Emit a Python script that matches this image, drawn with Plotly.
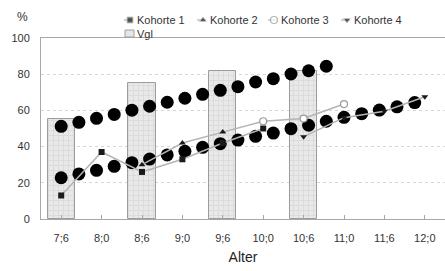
import plotly.graph_objects as go

# ---- data ----
tick_ages = [7.5, 8.0, 8.5, 9.0, 9.5, 10.0, 10.5, 11.0, 11.5, 12.0]
tick_labels = ["7;6", "8;0", "8;6", "9;0", "9;6", "10;0", "10;6", "11;0", "11;6", "12;0"]

vgl_ages = [7.5, 8.5, 9.5, 10.5]
vgl_values = [55, 75, 82, 82]

k1_ages = [7.5, 8.0, 8.5, 9.0, 9.5, 10.0]
k1_values = [13, 37, 26, 33, 42, 50]

k2_ages = [8.5, 9.0, 9.5, 10.0]
k2_values = [30, 42, 48, 54]

k3_ages = [10.0, 10.5, 11.0]
k3_values = [54, 55.5, 63.5]

k4_ages = [10.5, 11.0, 11.5, 12.0]
k4_values = [45.5, 56, 59.5, 67.5]

upper_ages = [7.5, 7.719, 7.937, 8.156, 8.375, 8.594, 8.812, 9.031, 9.25, 9.469,
              9.687, 9.906, 10.125, 10.344, 10.562, 10.781]
upper_values = [51.2, 53.4, 55.6, 57.8, 60.1, 62.3, 64.5, 66.7, 68.9, 71.1,
                73.1, 75.7, 77.5, 80.1, 81.9, 84.4]

lower_ages = [7.5, 7.719, 7.937, 8.156, 8.375, 8.594, 8.812, 9.031, 9.25, 9.469,
              9.687, 9.906, 10.125, 10.344, 10.562, 10.781, 11.0, 11.219, 11.437,
              11.656, 11.875]
lower_values = [22.8, 24.9, 26.9, 29.1, 31.1, 33.1, 35.4, 37.4, 39.6, 41.6,
                43.6, 45.7, 47.5, 49.9, 51.8, 54.0, 56.2, 58.2, 60.2, 62.0, 64.3]

legend_names = ["Kohorte 1", "Kohorte 2", "Kohorte 3", "Kohorte 4"]

FONT = "Liberation Sans, Arial, sans-serif"
LINE = "#b4b4b4"
MK = "#1a1a1a"
TXT = "#333333"
W, H = 445, 271

fig = go.Figure()

fig.add_trace(go.Bar(
    x=vgl_ages, y=vgl_values, name="Vgl", width=0.335,
    marker=dict(color="#e6e6e6", line=dict(color="#9c9c9c", width=1),
                pattern=dict(shape="+", fgcolor="#c8c8c8", bgcolor="#e9e9e9",
                             size=5, solidity=0.3)),
))

fig.add_trace(go.Scatter(
    x=upper_ages, y=upper_values, mode="markers",
    marker=dict(color="black", size=13), hoverinfo="skip"))
fig.add_trace(go.Scatter(
    x=lower_ages, y=lower_values, mode="markers",
    marker=dict(color="black", size=13), hoverinfo="skip"))

styles = [
    dict(symbol="square", size=6, color=MK),
    dict(symbol="triangle-up", size=6, color=MK),
    dict(symbol="circle", size=7, color="white", line=dict(color="#999999", width=1.2)),
    dict(symbol="triangle-down", size=6, color=MK),
]
series = [(k1_ages, k1_values), (k2_ages, k2_values), (k3_ages, k3_values), (k4_ages, k4_values)]
for (xs, ys), st, nm in zip(series, styles, legend_names):
    fig.add_trace(go.Scatter(
        x=xs, y=ys, name=nm, mode="lines+markers",
        line=dict(color=LINE, width=1.5), marker=st))

# ---- custom legend (pixel overlay axes) ----
leg_marker_x = [130, 203, 274, 347]
leg_y = 20
for mx, st, nm in zip(leg_marker_x, styles, legend_names):
    sizes = [0, st["size"], 0]
    m = dict(st)
    m["size"] = sizes
    fig.add_trace(go.Scatter(
        x=[mx - 6, mx, mx + 3], y=[leg_y] * 3, xaxis="x2", yaxis="y2",
        mode="lines+markers", line=dict(color=LINE, width=1.2), marker=m,
        hoverinfo="skip"))
    fig.add_annotation(text=nm, xref="x2", yref="y2", x=mx + 5, y=leg_y,
                       xanchor="left", yanchor="middle", showarrow=False,
                       font=dict(size=11, color=TXT, family=FONT))
fig.add_shape(type="rect", xref="x2", yref="y2", x0=125, x1=134, y0=30, y1=37,
              fillcolor="#e6e6e6", line=dict(color="#a0a0a0", width=1))
fig.add_annotation(text="Vgl", xref="x2", yref="y2", x=135, y=33.5,
                   xanchor="left", yanchor="middle", showarrow=False,
                   font=dict(size=11, color=TXT, family=FONT))
fig.add_annotation(text="%", xref="x2", yref="y2", x=15, y=17,
                   xanchor="left", yanchor="middle", showarrow=False,
                   font=dict(size=12, color=TXT, family=FONT))

fig.update_layout(
    width=W, height=H,
    margin=dict(l=0, r=0, t=0, b=0),
    paper_bgcolor="white", plot_bgcolor="rgba(0,0,0,0)",
    font=dict(family=FONT, size=11, color=TXT),
    showlegend=False,
    bargap=0,
    xaxis=dict(domain=[41 / W, 1.0], anchor="y",
               range=[7.25, 12.25], tickvals=tick_ages, ticktext=tick_labels,
               showgrid=False, zeroline=False, showline=True, mirror=True,
               linecolor="#a8a8a8", linewidth=1,
               ticks="inside", ticklen=4, tickcolor="#a8a8a8",
               ticklabelstandoff=9, automargin=False,
               tickfont=dict(size=11, color=TXT),
               title=dict(text="Alter", font=dict(size=14, color="#222222"), standoff=8)),
    yaxis=dict(domain=[52 / H, 233 / H], anchor="x",
               range=[0, 100], tickvals=[0, 20, 40, 60, 80, 100],
               showgrid=True, gridcolor="#d6d6d6", griddash="dot", gridwidth=1,
               zeroline=False, showline=True, linecolor="#a8a8a8", linewidth=1,
               ticks="", ticklabelstandoff=8, automargin=False,
               tickfont=dict(size=11, color=TXT)),
    xaxis2=dict(domain=[0, 1], range=[0, W], anchor="y2", visible=False, fixedrange=True),
    yaxis2=dict(domain=[0, 1], range=[H, 0], anchor="x2", visible=False, fixedrange=True),
)

fig.write_html("out.html", config={"displayModeBar": False},
               post_script="document.body.style.margin='0';document.body.style.overflow='hidden';")
